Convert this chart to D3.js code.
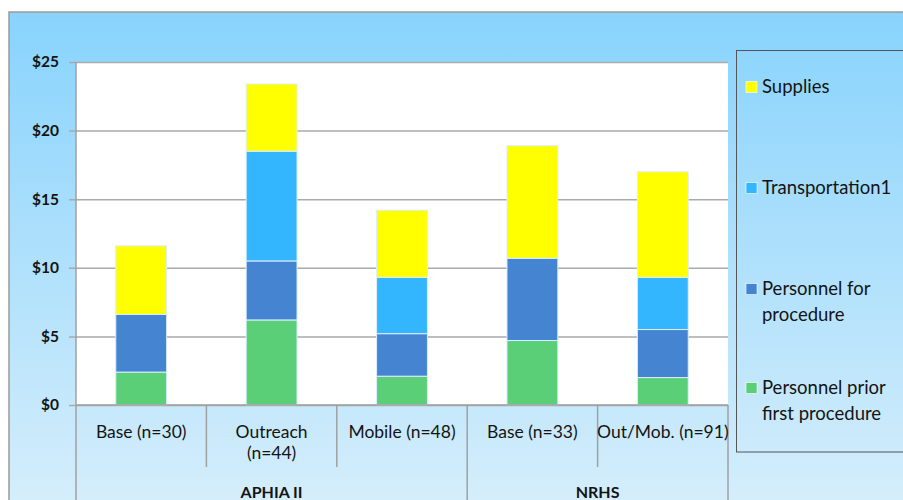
<!DOCTYPE html>
<html>
<head>
<meta charset="utf-8">
<script src="https://cdn.jsdelivr.net/npm/d3@7"></script>
<style>
  html, body { margin: 0; padding: 0; background: #ffffff; }
  svg { display: block; }
  text { font-family: Lato, "Open Sans", sans-serif; fill: #141414; }
</style>
</head>
<body>
<svg id="chart" width="903" height="500"></svg>
<script>
// ---------- data ----------
const categories = ["Base (n=30)", "Outreach (n=44)", "Mobile (n=48)", "Base (n=33)", "Out/Mob. (n=91)"];
const categoryLines = [["Base (n=30)"], ["Outreach", "(n=44)"], ["Mobile (n=48)"], ["Base (n=33)"], ["Out/Mob. (n=91)"]];
const groupNames = ["APHIA II", "NRHS"];
const groupSizes = [3, 2];

const seriesNames = ["Personnel prior first procedure", "Personnel for procedure", "Transportation1", "Supplies"];
const personnelPrior = [2.4, 6.2, 2.1, 4.7, 2.0];
const personnelFor   = [4.2, 4.3, 3.1, 6.0, 3.5];
const transportation = [0.0, 8.0, 4.1, 0.0, 3.8];
const supplies       = [5.0, 4.9, 4.9, 8.2, 7.7];

const yTicks = [0, 5, 10, 15, 20, 25];
const yTickLabels = ["$0", "$5", "$10", "$15", "$20", "$25"];

const legendOrder = ["Supplies", "Transportation1", "Personnel for procedure", "Personnel prior first procedure"];
const legendLines = [["Supplies"], ["Transportation1"], ["Personnel for", "procedure"], ["Personnel prior", "first procedure"]];

// ---------- build ----------
const seriesValues = [personnelPrior, personnelFor, transportation, supplies];
const colors = {
  "Personnel prior first procedure": "#5acf77",
  "Personnel for procedure": "#4584d1",
  "Transportation1": "#33b6fe",
  "Supplies": "#ffff00"
};

const rows = categories.map((c, i) => {
  const r = { category: c };
  seriesNames.forEach((s, j) => r[s] = seriesValues[j][i]);
  return r;
});

const svg = d3.select("#chart");
const defs = svg.append("defs");
const grad = defs.append("linearGradient").attr("id", "bg").attr("x1", 0).attr("y1", 0).attr("x2", 0).attr("y2", 1);
grad.append("stop").attr("offset", "0%").attr("stop-color", "#88d3fd");
grad.append("stop").attr("offset", "100%").attr("stop-color", "#d6eefb");

// outer frame
svg.append("rect").attr("x", 9).attr("y", 12).attr("width", 920).attr("height", 500)
  .attr("fill", "url(#bg)").attr("stroke", "#9a9a9a").attr("stroke-width", 1.5);

const plot = { left: 76, right: 728, top: 62, bottom: 405 };

const x = d3.scaleBand().domain(categories).range([plot.left, plot.right])
  .paddingInner(0.61).paddingOuter(0.305);
const y = d3.scaleLinear().domain([0, 25]).range([plot.bottom, plot.top]);

// plot area
svg.append("rect").attr("x", plot.left).attr("y", plot.top)
  .attr("width", plot.right - plot.left).attr("height", plot.bottom - plot.top)
  .attr("fill", "#ffffff");

// gridlines + ticks
const yAxis = d3.axisLeft(y).tickValues(yTicks)
  .tickSize(-(plot.right - plot.left)).tickSizeOuter(0)
  .tickFormat((d, i) => yTickLabels[i]);
const gy = svg.append("g").attr("transform", `translate(${plot.left},0)`).call(yAxis);
gy.select(".domain").remove();
gy.selectAll(".tick line").attr("stroke", "#aaaaaa").attr("stroke-width", 1.5).attr("x1", -7);
gy.selectAll(".tick text").attr("x", -17).attr("dy", "0.32em")
  .style("font-size", "15.5px").style("font-weight", "700").attr("fill", "#141414");

// bars
const stack = d3.stack().keys(seriesNames);
const stacked = stack(rows);
svg.append("g").selectAll("g").data(stacked).join("g")
  .attr("fill", d => colors[d.key])
  .selectAll("rect").data(d => d.filter(p => p[1] - p[0] > 0)).join("rect")
  .attr("x", d => x(d.data.category))
  .attr("width", x.bandwidth())
  .attr("y", d => y(d[1]))
  .attr("height", d => y(d[0]) - y(d[1]))
  .attr("stroke", "#dbeeff").attr("stroke-width", 1);

// axes lines
const lineColor = "#a0a0a0";
svg.append("line").attr("x1", plot.left).attr("x2", plot.left).attr("y1", plot.top).attr("y2", 500)
  .attr("stroke", lineColor).attr("stroke-width", 1.5);
svg.append("line").attr("x1", plot.left).attr("x2", plot.right).attr("y1", plot.bottom).attr("y2", plot.bottom)
  .attr("stroke", lineColor).attr("stroke-width", 1.5);
svg.append("line").attr("x1", plot.right).attr("x2", plot.right).attr("y1", plot.bottom).attr("y2", 500)
  .attr("stroke", lineColor).attr("stroke-width", 1.5);

// category separators and labels
const step = x.step();
const cellLeft = i => x(categories[i]) - x.paddingInner() * step / 2;
let groupStart = 0;
const groupBounds = [];
groupSizes.forEach((n, g) => {
  groupBounds.push([groupStart, groupStart + n]);
  groupStart += n;
});
categories.forEach((c, i) => {
  if (i === 0) return;
  const isGroupEdge = groupBounds.some(b => b[0] === i);
  svg.append("line").attr("x1", cellLeft(i)).attr("x2", cellLeft(i))
    .attr("y1", plot.bottom).attr("y2", isGroupEdge ? 500 : 467)
    .attr("stroke", lineColor).attr("stroke-width", 1.5);
});
categories.forEach((c, i) => {
  const cx = x(c) + x.bandwidth() / 2;
  const t = svg.append("text").attr("x", cx).attr("y", 438).attr("text-anchor", "middle")
    .style("font-size", "17.5px");
  categoryLines[i].forEach((ln, k) => {
    t.append("tspan").attr("x", cx).attr("dy", k === 0 ? 0 : 21).text(ln);
  });
});
groupNames.forEach((g, gi) => {
  const [a, b] = groupBounds[gi];
  const left = cellLeft(a);
  const right = b < categories.length ? cellLeft(b) : plot.right;
  svg.append("text").attr("x", (left + right) / 2).attr("y", 498).attr("text-anchor", "middle")
    .style("font-size", "16px").style("font-weight", "700").text(g);
});

// legend
svg.append("rect").attr("x", 736.5).attr("y", 50.5).attr("width", 200).attr("height", 401.5)
  .attr("fill", "none").attr("stroke", "#555555").attr("stroke-width", 1);
const legendY = [87, 188, 289, 388];
legendOrder.forEach((name, i) => {
  const yy = legendY[i];
  svg.append("rect").attr("x", 746).attr("y", yy - 5.5).attr("width", 11).attr("height", 11)
    .attr("fill", colors[name]).attr("stroke", "#ffffff").attr("stroke-width", 0.6);
  const t = svg.append("text").attr("x", 762).attr("y", yy).attr("dy", "0.35em")
    .style("font-size", "18.5px");
  legendLines[i].forEach((ln, k) => {
    t.append("tspan").attr("x", 762).attr("dy", k === 0 ? "0.35em" : 26).text(ln);
  });
});
</script>
</body>
</html>
